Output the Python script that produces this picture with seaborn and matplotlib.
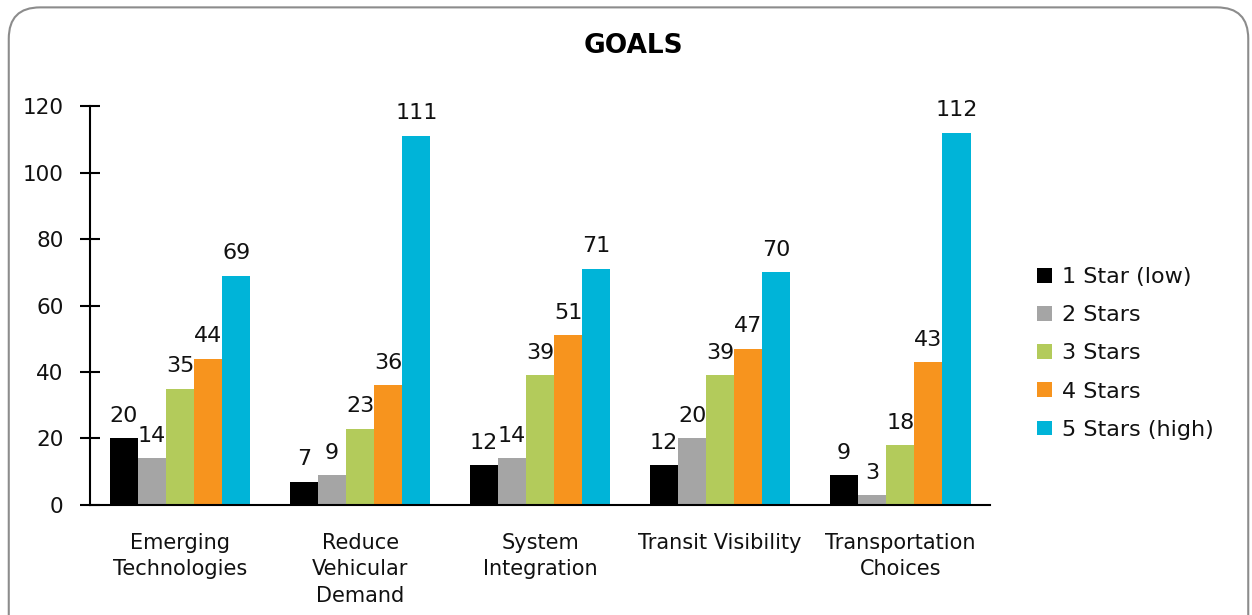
import matplotlib
matplotlib.use("Agg")
import matplotlib.pyplot as plt
import seaborn as sns
import pandas as pd
from matplotlib.patches import FancyBboxPatch

categories = ["Emerging\nTechnologies", "Reduce\nVehicular\nDemand", "System\nIntegration",
              "Transit Visibility", "Transportation\nChoices"]
series = ["1 Star (low)", "2 Stars", "3 Stars", "4 Stars", "5 Stars (high)"]
star1 = [20, 7, 12, 12, 9]
star2 = [14, 9, 14, 20, 3]
star3 = [35, 23, 39, 39, 18]
star4 = [44, 36, 51, 47, 43]
star5 = [69, 111, 71, 70, 112]
colors = ["#000000", "#A5A5A5", "#B3CB5B", "#F7941E", "#00B4D8"]
yticks = [0, 20, 40, 60, 80, 100, 120]

values = [star1, star2, star3, star4, star5]
rows = []
for s, vals in zip(series, values):
    for c, v in zip(categories, vals):
        rows.append({"Category": c, "Series": s, "Value": v})
df = pd.DataFrame(rows)

sns.set_theme(style="white")
plt.rcParams['font.family'] = ['DejaVu Sans']
plt.rcParams['text.color'] = '#111111'
plt.rcParams['xtick.color'] = 'black'
plt.rcParams['ytick.color'] = 'black'
plt.rcParams['xtick.labelcolor'] = '#111111'
plt.rcParams['ytick.labelcolor'] = '#111111'

fig = plt.figure(figsize=(12.52, 6.15), dpi=100)
ax = fig.add_axes([0.0719, 0.1789, 0.7191, 0.6487])

sns.barplot(data=df, x="Category", y="Value", hue="Series", order=categories,
            hue_order=series, palette=colors, width=0.78, saturation=1,
            errorbar=None, ax=ax, edgecolor="none", linewidth=0)

for cont in ax.containers:
    ax.bar_label(cont, fontsize=16, padding=9, color="#111111")

ax.set_ylim(0, 120)
ax.set_xlim(-0.5, 4.5)
ax.set_yticks(yticks)
ax.set_yticklabels([str(t) for t in yticks], fontsize=15.5)
ax.set_xlabel("")
ax.set_ylabel("")
ax.set_xticks(range(len(categories)))
ax.set_xticklabels(categories, fontsize=15, linespacing=1.4)
ax.tick_params(axis="x", which="major", length=0, pad=20)
ax.set_xticks([i - 0.5 for i in range(len(categories) + 1)], minor=True)
ax.tick_params(axis="x", which="minor", length=14, width=1.5, direction="inout", color="black")
ax.tick_params(axis="y", length=14, width=1.5, direction="inout", color="black", pad=12, left=True)
for side in ["top", "right"]:
    ax.spines[side].set_visible(False)
for side in ["left", "bottom"]:
    ax.spines[side].set_color("black")
    ax.spines[side].set_linewidth(1.5)

fig.text(0.506, 0.925, "GOALS", fontsize=19, fontweight="bold", ha="center", va="center",
         color="black")

leg = ax.legend(loc="center left", bbox_to_anchor=(1.03, 0.38), frameon=False,
                fontsize=16, handlelength=0.65, handleheight=0.65, handletextpad=0.45,
                labelspacing=0.82)

border = FancyBboxPatch((0.007, -0.08), 0.99, 1.068, boxstyle="round,pad=0,rounding_size=0.025",
                        transform=fig.transFigure, fill=False, edgecolor="#8c8c8c",
                        linewidth=1.5, mutation_aspect=1252/615)
fig.patches.append(border)

fig.savefig("out.png", dpi=100)
